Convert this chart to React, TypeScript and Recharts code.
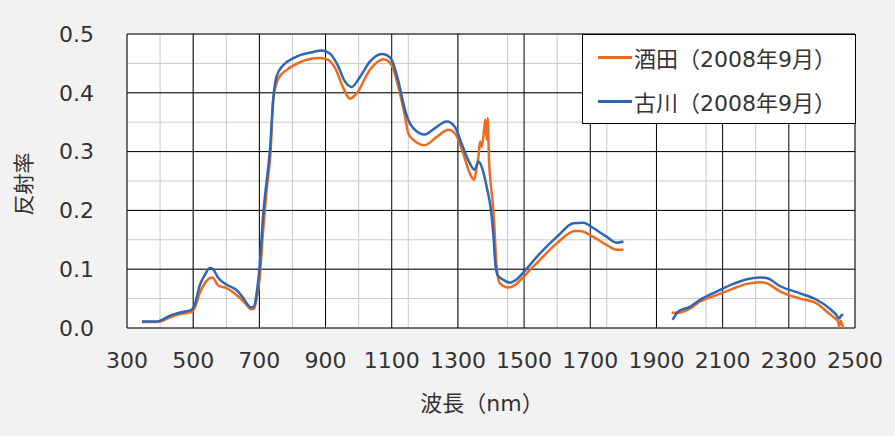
import React from "react";
import { LineChart, Line, XAxis, YAxis, CartesianGrid, Legend } from "recharts";

// 酒田（2008年9月）
const sakataWave = [
  345, 390, 410, 430, 453, 475, 495, 505, 520, 535, 550, 558, 576, 601, 631, 650, 662, 674, 684, 692,
  700, 712, 722, 734, 742, 757, 783, 823, 883, 908, 929, 954, 974, 994, 1034, 1075, 1100, 1120, 1140,
  1150, 1165, 1200, 1236, 1271, 1291, 1316, 1336, 1349, 1357, 1362, 1367, 1372, 1379, 1383, 1387, 1390,
  1394, 1400, 1405, 1410, 1415, 1420, 1427, 1452, 1472, 1508, 1548, 1599, 1654, 1669, 1709, 1750, 1780,
  1800, 1870, 1946, 1966, 2001, 2032, 2082, 2132, 2173, 2213, 2233, 2274, 2334, 2384, 2414, 2434, 2449,
  2452, 2456, 2460, 2465,
];
const sakataRefl = [
  0.01, 0.01, 0.013, 0.018, 0.023, 0.025, 0.027, 0.035, 0.06, 0.076, 0.085, 0.086, 0.072, 0.068, 0.056,
  0.046, 0.039, 0.032, 0.033, 0.05, 0.08, 0.17, 0.235, 0.3, 0.388, 0.424, 0.439, 0.452, 0.459, 0.456,
  0.442, 0.408, 0.39, 0.399, 0.439, 0.457, 0.447, 0.41, 0.36, 0.331, 0.32, 0.311, 0.325, 0.337, 0.331,
  0.297, 0.263, 0.252, 0.274, 0.291, 0.317, 0.308, 0.337, 0.354, 0.32, 0.357, 0.286, 0.24, 0.215, 0.175,
  0.12, 0.09, 0.076, 0.069, 0.073, 0.093, 0.116, 0.144, 0.165, 0.165, 0.155, 0.141, 0.133, 0.133, null,
  0.026, 0.026, 0.033, 0.045, 0.056, 0.067, 0.075, 0.078, 0.076, 0.062, 0.05, 0.042, 0.028, 0.019, 0.011,
  0.002, 0.012, 0.008, 0.0,
];

// 古川（2008年9月）
const furukawaWave = [
  345, 390, 410, 430, 453, 475, 495, 505, 520, 535, 550, 558, 576, 600, 630, 650, 662, 674, 684, 692,
  700, 712, 722, 732, 742, 752, 772, 800, 823, 860, 888, 913, 934, 959, 979, 1004, 1034, 1070, 1085, 1100,
  1120, 1140, 1155, 1165, 1200, 1231, 1266, 1291, 1311, 1331, 1350, 1362, 1372, 1387, 1400, 1407, 1413,
  1420, 1437, 1457, 1478, 1508, 1548, 1599, 1649, 1679, 1709, 1750, 1780, 1800, 1870, 1949, 1966, 2001,
  2032, 2082, 2132, 2173, 2213, 2233, 2274, 2334, 2384, 2424, 2444, 2452, 2460, 2465,
];
const furukawaRefl = [
  0.011, 0.011, 0.015, 0.021, 0.025, 0.028, 0.031, 0.04, 0.073, 0.09, 0.102, 0.101, 0.085, 0.074, 0.065,
  0.052, 0.042, 0.035, 0.037, 0.06, 0.099, 0.196, 0.25, 0.303, 0.39, 0.428, 0.447, 0.458, 0.464, 0.469,
  0.472, 0.467, 0.45, 0.419, 0.41, 0.427, 0.453, 0.466, 0.464, 0.456, 0.42, 0.371, 0.348, 0.34, 0.329,
  0.34, 0.351, 0.342, 0.314, 0.286, 0.269, 0.283, 0.274, 0.24, 0.2, 0.16, 0.11, 0.09, 0.082, 0.077, 0.083,
  0.101, 0.127, 0.155, 0.178, 0.179, 0.17, 0.155, 0.145, 0.147, null, 0.014, 0.028, 0.036, 0.048, 0.062,
  0.075, 0.083, 0.086, 0.085, 0.071, 0.059, 0.048, 0.033, 0.022, 0.016, 0.022, 0.022,
];

const xTicks = [300, 500, 700, 900, 1100, 1300, 1500, 1700, 1900, 2100, 2300, 2500];
const yTicks = [0, 0.1, 0.2, 0.3, 0.4, 0.5];
const xMinor = Array.from({ length: 45 }, (_, i) => 300 + i * 50);
const yMinor = [0, 0.05, 0.1, 0.15, 0.2, 0.25, 0.3, 0.35, 0.4, 0.45, 0.5];

const seriesNames = ["酒田（2008年9月）", "古川（2008年9月）"];
const ORANGE = "#ee6a1f";
const BLUE = "#2e65b5";
const FONT = '"DejaVu Sans", "Noto Sans CJK JP", sans-serif';

const sakata = sakataWave.map((w, i) => ({ w, r: sakataRefl[i] }));
const furukawa = furukawaWave.map((w, i) => ({ w, r: furukawaRefl[i] }));

function LegendBox() {
  const items = [
    { name: seriesNames[0], color: ORANGE },
    { name: seriesNames[1], color: BLUE },
  ];
  return (
    <div
      style={{
        boxSizing: "border-box",
        width: 274,
        height: 90,
        border: "1px solid #000",
        background: "#fff",
        fontFamily: FONT,
        fontSize: 22,
        color: "#333",
        paddingTop: 0,
      }}
    >
      {items.map(it => (
        <div key={it.name} style={{ display: "flex", alignItems: "center", height: 44, paddingLeft: 15 }}>
          <span style={{ display: "inline-block", width: 34, height: 3, background: it.color, marginRight: 2 }} />
          <span style={{ whiteSpace: "nowrap" }}>{it.name}</span>
        </div>
      ))}
    </div>
  );
}

export default function App() {
  return (
    <div style={{ width: 895, height: 436, background: "#f2f2f2" }}>
      <style>{`body{margin:0;background:#f2f2f2}`}</style>
      <LineChart width={895} height={436} margin={{ top: 34, right: 40, bottom: 38, left: 0 }}>
        <CartesianGrid fill="#fff" stroke="#c8c8c8" verticalValues={xMinor} horizontalValues={yMinor} />
        <CartesianGrid fill="none" stroke="#000" verticalValues={xTicks} horizontalValues={yTicks} />
        <XAxis
          type="number"
          dataKey="w"
          domain={[300, 2500]}
          ticks={xTicks}
          allowDataOverflow
          axisLine={false}
          tickLine={false}
          tickSize={0}
          tickMargin={24}
          height={70}
          tick={{ fill: "#333", fontSize: 22, fontFamily: FONT }}
          label={(p: any) => {
            const vb = p.viewBox;
            return (
              <text
                x={vb.x + vb.width / 2 - 9}
                y={vb.y + 83}
                textAnchor="middle"
                fill="#333"
                fontSize={22}
                fontFamily={FONT}
              >
                波長（nm）
              </text>
            );
          }}
        />
        <YAxis
          type="number"
          domain={[0, 0.5]}
          ticks={yTicks}
          width={127}
          axisLine={false}
          tickLine={false}
          tickSize={0}
          tickMargin={33}
          tickFormatter={(v: number) => v.toFixed(1)}
          tick={{ fill: "#333", fontSize: 22, fontFamily: FONT }}
          label={(p: any) => {
            const vb = p.viewBox;
            const cx = vb.x + 24;
            const cy = vb.y + vb.height / 2 + 3;
            return (
              <text
                x={cx}
                y={cy}
                transform={`rotate(-90 ${cx} ${cy})`}
                textAnchor="middle"
                dominantBaseline="central"
                fill="#333"
                fontSize={21}
                fontFamily={FONT}
              >
                反射率
              </text>
            );
          }}
        />
        <Legend
          verticalAlign="middle"
          align="center"
          layout="horizontal"
          wrapperStyle={{ left: 582, top: 34, width: 274, height: 90 }}
          content={() => <LegendBox />}
        />
        <Line
          data={sakata}
          dataKey="r"
          name={seriesNames[0]}
          type="monotone"
          stroke={ORANGE}
          strokeWidth={2.5}
          dot={false}
          isAnimationActive={false}
        />
        <Line
          data={furukawa}
          dataKey="r"
          name={seriesNames[1]}
          type="monotone"
          stroke={BLUE}
          strokeWidth={2.5}
          dot={false}
          isAnimationActive={false}
        />
      </LineChart>
    </div>
  );
}
